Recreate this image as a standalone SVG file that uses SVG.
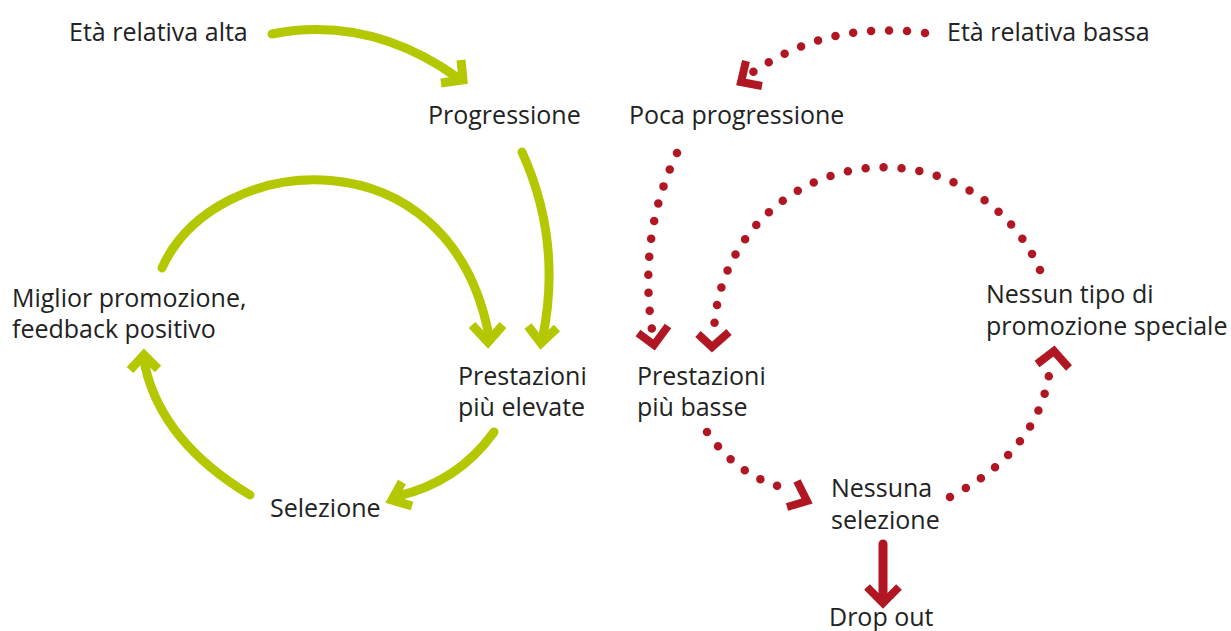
<svg xmlns="http://www.w3.org/2000/svg" width="1231" height="631" viewBox="0 0 1231 631">
<defs>
<style>
text{font-family:"Open Sans","Noto Sans","Liberation Sans",sans-serif;font-size:25px;fill:#222}
.g{fill:none;stroke:#b3c800;stroke-width:9;stroke-linecap:round}
.gh{fill:none;stroke:#b3c800;stroke-width:9;stroke-linejoin:miter;stroke-linecap:butt}
.r{fill:none;stroke:#b01722;stroke-width:8.5;stroke-linecap:round;stroke-dasharray:0 18}
.rh{fill:none;stroke:#b01722;stroke-width:8;stroke-linejoin:miter;stroke-linecap:butt}
.rs{fill:none;stroke:#b01722;stroke-width:9;stroke-linecap:round}
</style>
</defs>
<rect width="1231" height="631" fill="#fff"/>
<g id="n-eta-alta"><text x="69" y="41">Età relativa alta</text></g>
<g id="n-progressione"><text x="428" y="124">Progressione</text></g>
<g id="n-poca"><text x="629" y="124">Poca progressione</text></g>
<g id="n-eta-bassa"><text x="947" y="41">Età relativa bassa</text></g>
<g id="n-miglior"><text x="12" y="307">Miglior promozione,</text><text x="12" y="338">feedback positivo</text></g>
<g id="n-prest-elev"><text x="458" y="385">Prestazioni</text><text x="458" y="416">più elevate</text></g>
<g id="n-prest-basse"><text x="637" y="385">Prestazioni</text><text x="637" y="416">più basse</text></g>
<g id="n-selezione"><text x="270" y="517">Selezione</text></g>
<g id="n-nessuna"><text x="831" y="497">Nessuna</text><text x="831" y="529">selezione</text></g>
<g id="n-nessun-tipo"><text x="986" y="303">Nessun tipo di</text><text x="986" y="335">promozione speciale</text></g>
<g id="n-dropout"><text x="829" y="626">Drop out</text></g>
<g id="connectors">
<path class="g" d="M272,34 Q370,15 458,78"/>
<path class="gh" d="M461,60 L463,80 L441,83"/>
<path class="g" d="M522,152 Q562,240 543,336"/>
<path class="gh" d="M528,326 L541,343 L557,328"/>
<path class="g" d="M162,268 C215,150 450,130 489,336"/>
<path class="gh" d="M472,325 L488,342 L503,325"/>
<path class="g" d="M494,432 Q458,482 398,496"/>
<path class="gh" d="M402,482 L392,500 L412,506"/>
<path class="g" d="M250,495 Q162,442 145,366"/>
<path class="gh" d="M130,370 L144,355 L158,369"/>
<path class="r" d="M925,33 Q830,20 753,72"/>
<path class="rh" d="M746,61 L741,82 L762,86"/>
<path class="r" d="M677,153 Q638,235 652,330"/>
<path class="rh" d="M638,333 L654,345 L668,326"/>
<path class="r" d="M1040,270 A170 170 0 0 0 714,332"/>
<path class="rh" d="M698,334 L712,347 L729,332"/>
<path class="r" d="M707,432 Q740,480 794,490"/>
<path class="rh" d="M797,481 L807,501 L787,507"/>
<path class="r" d="M950,497 Q1040,450 1050,368"/>
<path class="rh" d="M1037,364 L1054,351 L1069,368"/>
<path class="rs" d="M883,544 L883,598"/>
<path class="rh" d="M867,587 L883,603 L899,587"/>
</g>
</svg>
